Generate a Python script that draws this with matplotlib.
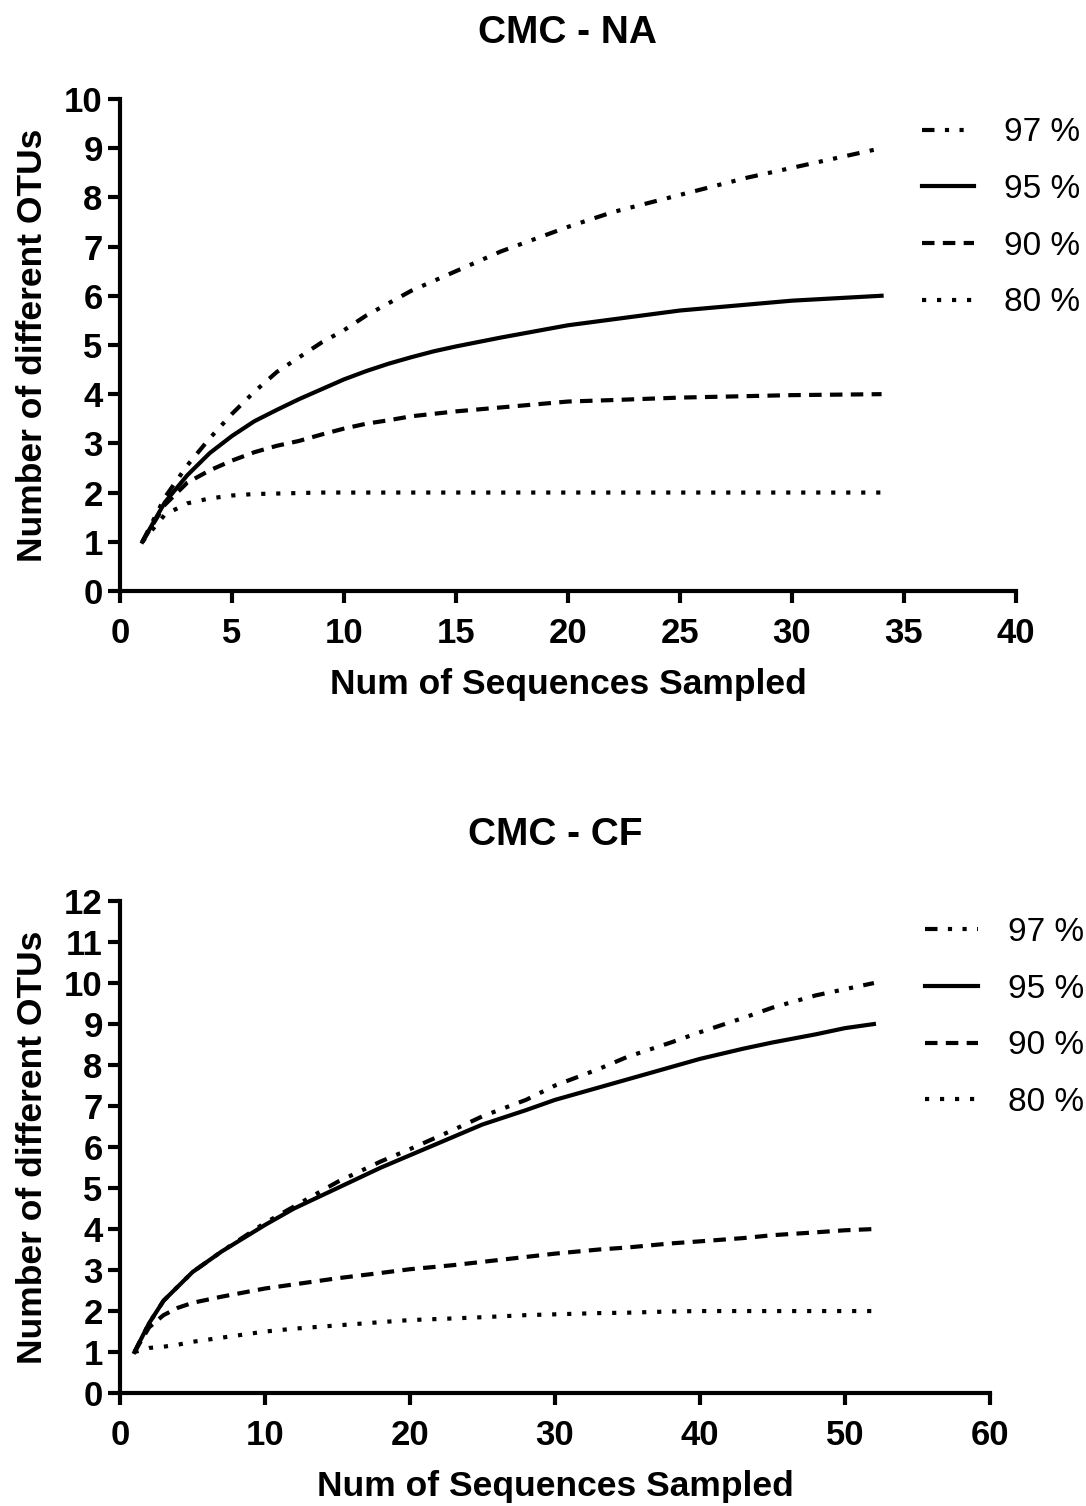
import matplotlib.pyplot as plt

plt.rcParams['font.family'] = ['Liberation Sans', 'DejaVu Sans']

# CMC - NA
na_x = [1, 2, 3, 4, 5, 6, 7, 8, 9, 10, 11, 12, 13, 14, 15, 17, 20, 22, 25, 28, 30, 32, 34]
na_97 = [1.0, 1.9, 2.55, 3.1, 3.6, 4.05, 4.45, 4.75, 5.05, 5.3, 5.6, 5.85, 6.1, 6.3, 6.5,
         6.9, 7.4, 7.7, 8.05, 8.4, 8.6, 8.8, 9.0]
na_95 = [1.0, 1.8, 2.35, 2.8, 3.15, 3.45, 3.68, 3.9, 4.1, 4.3, 4.47, 4.62, 4.75, 4.87, 4.97,
         5.15, 5.4, 5.52, 5.7, 5.82, 5.9, 5.95, 6.0]
na_90 = [1.0, 1.75, 2.2, 2.45, 2.65, 2.82, 2.95, 3.05, 3.18, 3.3, 3.4, 3.47, 3.55, 3.6, 3.65,
         3.73, 3.85, 3.88, 3.93, 3.96, 3.98, 3.99, 4.0]
na_80 = [1.0, 1.55, 1.78, 1.88, 1.94, 1.97, 1.98, 1.99, 2.0, 2.0, 2.0, 2.0, 2.0, 2.0, 2.0,
         2.0, 2.0, 2.0, 2.0, 2.0, 2.0, 2.0, 2.0]

# CMC - CF
cf_x = [1, 2, 3, 4, 5, 7, 10, 12, 15, 18, 20, 23, 25, 28, 30, 33, 35, 38, 40, 43, 45, 48, 50, 52]
cf_97 = [1.0, 1.7, 2.25, 2.6, 2.95, 3.45, 4.15, 4.55, 5.15, 5.65, 5.95, 6.42, 6.75, 7.15,
         7.5, 7.9, 8.2, 8.55, 8.8, 9.15, 9.4, 9.7, 9.85, 10.0]
cf_95 = [1.0, 1.7, 2.25, 2.6, 2.95, 3.45, 4.1, 4.5, 5.0, 5.5, 5.8, 6.25, 6.55, 6.9, 7.15,
         7.45, 7.65, 7.95, 8.15, 8.4, 8.55, 8.75, 8.9, 9.0]
cf_90 = [1.0, 1.6, 1.9, 2.08, 2.2, 2.35, 2.55, 2.65, 2.8, 2.93, 3.02, 3.12, 3.2, 3.32, 3.4,
         3.5, 3.55, 3.65, 3.7, 3.78, 3.85, 3.92, 3.97, 4.0]
cf_80 = [1.0, 1.1, 1.13, 1.18, 1.25, 1.35, 1.5, 1.57, 1.65, 1.73, 1.78, 1.82, 1.85, 1.9,
         1.92, 1.95, 1.96, 1.99, 2.0, 2.0, 2.0, 2.0, 2.0, 2.0]

labels = ["97 %", "95 %", "90 %", "80 %"]
styles = [(0, (3, 2.5, 1, 2.5, 1, 2.5)), "-", (0, (3, 2)), (0, (1, 2.6))]

fig = plt.figure(figsize=(10.86, 15.06), dpi=100)
ax1 = fig.add_axes([0.1105, 0.6076, 0.825, 0.3267])
ax2 = fig.add_axes([0.1105, 0.075, 0.801, 0.3267])


def style_ax(ax, title, xmax, xstep, ymax):
    for s in ["top", "right"]:
        ax.spines[s].set_visible(False)
    for s in ["left", "bottom"]:
        ax.spines[s].set_linewidth(3)
    ax.set_xlim(0, xmax)
    ax.set_ylim(0, ymax)
    ax.set_xticks(range(0, xmax + 1, xstep))
    ax.set_yticks(range(0, ymax + 1))
    ax.tick_params(width=3, length=8.5, labelsize=25)
    ax.tick_params(axis="x", pad=10.5)
    ax.tick_params(axis="y", pad=4)
    for t in ax.get_xticklabels() + ax.get_yticklabels():
        t.set_fontweight("bold")
    ax.set_xlabel("Num of Sequences Sampled", fontsize=25.5, fontweight="bold", labelpad=13)
    ax.set_ylabel("Number of different OTUs", fontsize=25.5, fontweight="bold", labelpad=11)
    ax.set_title(title, fontsize=28, fontweight="bold", pad=40)


for ax, x, series in [(ax1, na_x, [na_97, na_95, na_90, na_80]),
                      (ax2, cf_x, [cf_97, cf_95, cf_90, cf_80])]:
    for y, lab, ls in zip(series, labels, styles):
        ax.plot(x, y, color="black", lw=3, linestyle=ls, label=lab)

style_ax(ax1, "CMC - NA", 40, 5, 10)
style_ax(ax2, "CMC - CF", 60, 10, 12)

leg_kw = dict(loc="upper left", bbox_transform=fig.transFigure, frameon=False, fontsize=24,
              handlelength=1.57, handletextpad=0.9, labelspacing=0.77, borderpad=0,
              borderaxespad=0)
ax1.legend(bbox_to_anchor=(0.849, 0.922), **leg_kw)
ax2.legend(bbox_to_anchor=(0.852, 0.391), **leg_kw)

fig.savefig("out.png", dpi=100)
